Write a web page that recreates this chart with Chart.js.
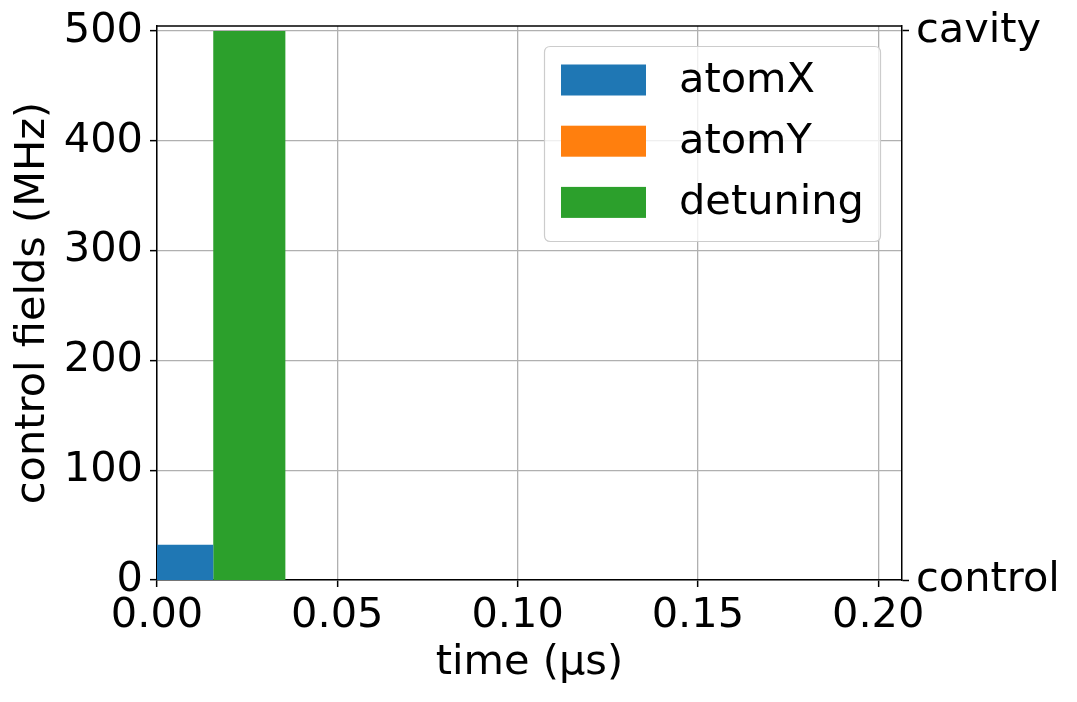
<!DOCTYPE html>
<html>
<head>
<meta charset="utf-8">
<script src="https://cdn.jsdelivr.net/npm/chart.js@4/dist/chart.umd.min.js"></script>
<style>
html,body{margin:0;padding:0;background:#fff;}
#wrap{width:1077px;height:702px;position:relative;}
</style>
</head>
<body>
<div id="wrap"><canvas id="c"></canvas></div>
<script>
// ---- data ----
const timeEdges = [0, 0.0156, 0.0356, 0.2];          // segment boundaries (µs)
const atomX     = [32, 0, 0];                         // MHz per segment
const atomY     = [0, 0, 0];
const detuning  = [0, 500, 0];
const seriesNames = ['atomX', 'atomY', 'detuning'];
const xTicks = [0, 0.05, 0.10, 0.15, 0.20];
const yTicks = [0, 100, 200, 300, 400, 500];
const rightTickValues = [0, 500];
const rightTickLabels = ['control', 'cavity'];
const xLimits = [0, 0.2066];
const yLimits = [0, 504.5];

const colors = ['#1f77b4', '#ff7f0e', '#2ca02c'];
const FONT = 'DejaVu Sans';
const FS = 41.5;

function stepPoints(vals) {
  const pts = vals.map((v, i) => ({x: timeEdges[i], y: v}));
  pts.push({x: timeEdges[timeEdges.length - 1], y: vals[vals.length - 1]});
  return pts;
}

const seriesVals = [atomX, atomY, detuning];
const datasets = seriesVals.map((vals, i) => ({
  label: seriesNames[i],
  data: stepPoints(vals),
  stepped: 'before',
  fill: 'origin',
  backgroundColor: colors[i],
  borderColor: 'rgba(0,0,0,0)',
  borderWidth: 0,
  pointRadius: 0,
  yAxisID: 'y'
}));

const framePlugin = {
  id: 'frame',
  afterDraw(chart) {
    const ctx = chart.ctx, a = chart.chartArea;
    ctx.save();
    // top spine
    ctx.strokeStyle = '#000';
    ctx.lineWidth = 1.5;
    ctx.beginPath();
    ctx.moveTo(a.left, a.top);
    ctx.lineTo(a.right, a.top);
    ctx.stroke();
    // legend
    const lx = 544.5, ly = 46.5, lw = 336, lh = 195, r = 6;
    ctx.fillStyle = 'rgba(255,255,255,0.8)';
    ctx.strokeStyle = '#cccccc';
    ctx.lineWidth = 1.2;
    ctx.beginPath();
    ctx.moveTo(lx + r, ly);
    ctx.lineTo(lx + lw - r, ly);
    ctx.quadraticCurveTo(lx + lw, ly, lx + lw, ly + r);
    ctx.lineTo(lx + lw, ly + lh - r);
    ctx.quadraticCurveTo(lx + lw, ly + lh, lx + lw - r, ly + lh);
    ctx.lineTo(lx + r, ly + lh);
    ctx.quadraticCurveTo(lx, ly + lh, lx, ly + lh - r);
    ctx.lineTo(lx, ly + r);
    ctx.quadraticCurveTo(lx, ly, lx + r, ly);
    ctx.closePath();
    ctx.fill();
    ctx.stroke();
    ctx.font = FS + 'px "' + FONT + '"';
    ctx.textBaseline = 'middle';
    ctx.textAlign = 'left';
    chart.data.datasets.forEach((ds, i) => {
      const cy = 80 + i * 61.2;
      ctx.fillStyle = ds.backgroundColor;
      ctx.fillRect(561, cy - 15.5, 85, 31);
      ctx.fillStyle = '#000';
      ctx.fillText(ds.label, 679, cy + 1);
    });
    ctx.restore();
  }
};

function noPadV(s) { s.paddingTop = 0; s.paddingBottom = 0; }

new Chart(document.getElementById('c'), {
  type: 'line',
  data: { datasets },
  options: {
    responsive: true,
    maintainAspectRatio: false,
    animation: false,
    layout: { padding: { top: 26, left: 0, right: 0, bottom: 0 } },
    plugins: { legend: { display: false }, tooltip: { enabled: false } },
    scales: {
      x: {
        type: 'linear',
        min: xLimits[0], max: xLimits[1],
        afterBuildTicks: s => { s.ticks = xTicks.map(v => ({value: v})); },
        afterFit: s => { s.height = 122; s.paddingLeft = 0; s.paddingRight = 0; },
        ticks: {
          callback: v => Number(v).toFixed(2),
          font: { family: FONT, size: FS },
          color: '#000',
          padding: 4,
          maxRotation: 0, autoSkip: false
        },
        grid: { color: '#b0b0b0', lineWidth: 1.3, tickColor: '#000', tickLength: 7, tickWidth: 1.5 },
        border: { color: '#000', width: 1.5 },
        title: { display: true, text: 'time (μs)', font: { family: FONT, size: FS }, color: '#000', padding: { top: 0, bottom: 14 } }
      },
      y: {
        type: 'linear',
        position: 'left',
        min: yLimits[0], max: yLimits[1],
        afterBuildTicks: s => { s.ticks = yTicks.map(v => ({value: v})); },
        afterFit: s => { s.width = 157; noPadV(s); },
        ticks: {
          font: { family: FONT, size: FS },
          color: '#000',
          padding: 7
        },
        grid: { color: '#b0b0b0', lineWidth: 1.3, tickColor: '#000', tickLength: 7, tickWidth: 1.5 },
        border: { color: '#000', width: 1.5 },
        title: { display: true, text: 'control fields (MHz)', font: { family: FONT, size: FS }, color: '#000', padding: { top: 8, bottom: 0 } }
      },
      y2: {
        type: 'linear',
        position: 'right',
        min: yLimits[0], max: yLimits[1],
        afterBuildTicks: s => { s.ticks = rightTickValues.map(v => ({value: v})); },
        afterFit: s => { s.width = 175; noPadV(s); },
        ticks: {
          callback: (v) => rightTickLabels[rightTickValues.indexOf(v)],
          font: { family: FONT, size: FS },
          color: '#000',
          padding: 7
        },
        grid: { drawOnChartArea: false, tickColor: '#000', tickLength: 7, tickWidth: 1.5 },
        border: { color: '#000', width: 1.5 }
      }
    }
  },
  plugins: [framePlugin]
});
</script>
</body>
</html>
